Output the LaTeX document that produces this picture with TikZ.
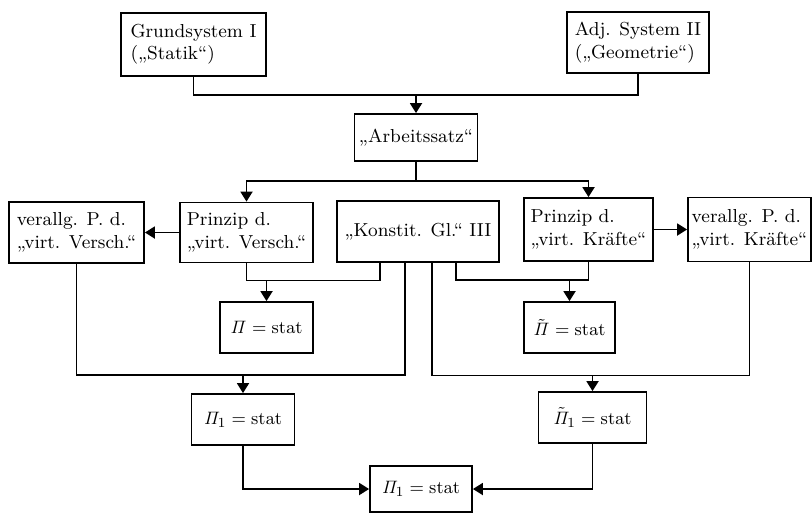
\documentclass[tikz,border=0pt]{standalone}
\usepackage{xcolor}
\usepackage{tikz}
\usetikzlibrary{arrows.meta}
\usetikzlibrary{positioning}

\begin{document}
\begin{tikzpicture}[x=0.5pt,y=-0.5pt,
	line width=0.9pt,
	box/.style={draw,align=left,inner sep=0pt},
	arr/.style={-{Triangle[width=6pt,length=5pt]}},
	font=\fontsize{9.4}{11.2}\selectfont]
  \useasboundingbox (0,0) rectangle (812,515);
  \node[box,minimum width=72.5pt,minimum height=31.5pt] (gs) at (193.5,44.5) {Grundsystem I\\(„Statik“)};
  \node[box,minimum width=71pt,minimum height=30.5pt] (adj) at (638,42.5) {Adj. System II\\(„Geometrie“)};
  \node[box,minimum width=61.5pt,minimum height=23.5pt] (arb) at (416,137.5) {„Arbeitssatz“};
  \node[box,minimum width=67.5pt,minimum height=30.5pt] (vvv) at (76.5,232.5) {verallg. P. d.\\„virt. Versch.“};
  \node[box,minimum width=66.5pt,minimum height=30pt] (pvv) at (246.5,232.5) {Prinzip d.\\„virt. Versch.“};
  \node[box,minimum width=81pt,minimum height=30.5pt] (kon) at (418,231.5) {„Konstit. Gl.“ III};
  \node[box,minimum width=64.5pt,minimum height=31.5pt] (pvk) at (588.5,229.5) {Prinzip d.\\„virt. Kräfte“};
  \node[box,minimum width=61.5pt,minimum height=32pt] (vvk) at (749.5,229.5) {verallg. P. d.\\„virt. Kräfte“};
  \node[box,minimum width=46.5pt,minimum height=25.5pt] (pi) at (266.5,327.5) {$\mathit{\Pi} = \mathrm{stat}$};
  \node[box,minimum width=45.5pt,minimum height=25.5pt] (pit) at (569.5,327.5) {$\tilde{\mathit{\Pi}} = \mathrm{stat}$};
  \node[box,minimum width=51.5pt,minimum height=25.5pt] (pi1) at (243,419.5) {$\mathit{\Pi}_1 = \mathrm{stat}$};
  \node[box,minimum width=54pt,minimum height=25.5pt] (pit1) at (592.5,417.5) {$\tilde{\mathit{\Pi}}_1 = \mathrm{stat}$};
  \node[box,minimum width=51pt,minimum height=23pt] (pib) at (421,489) {$\mathit{\Pi}_1 = \mathrm{stat}$};

  \draw (gs.south) -- ++(0,18) -| (adj.south);
  \draw[arr] (arb.north |- 0,94) -- (arb.north);
  \draw (arb.south) -- ++(0,19) coordinate (a1);
  \draw[arr] (a1) -| (pvv.north);
  \draw[arr] (a1) -| (pvk.north);
  \draw[arr] (pvv.west) -- (vvv.east);
  \draw[arr] (pvk.east) -- (vvk.west);
  \draw (pvv.south) -- ++(0,17) coordinate (b1) -| ([xshift=22pt]kon.south west);
  \draw[arr] (b1 -| pi.north) -- (pi.north);
  \draw (pvk.south) -- ++(0,18) coordinate (b2) -| ([xshift=60pt]kon.south west);
  \draw[arr] (b2 -| pit.north) -- (pit.north);
  \draw (vvv.south) -- ++(0,111) coordinate (c1) -| ([xshift=34.5pt]kon.south west);
  \draw[arr] (c1 -| pi1.north) -- (pi1.north);
  \draw (vvk.south) -- ++(0,113) coordinate (c2) -| ([xshift=48pt]kon.south west);
  \draw[arr] (c2 -| pit1.north) -- (pit1.north);
  \draw[arr] (pi1.south) |- (pib.west);
  \draw[arr] (pit1.south) |- (pib.east);
\end{tikzpicture}
\end{document}
